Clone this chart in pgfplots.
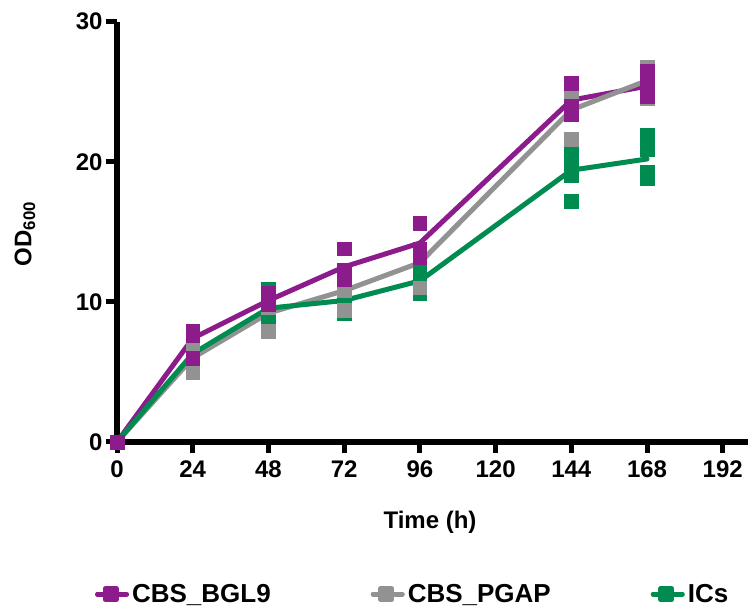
\documentclass[border=0pt]{standalone}
\usepackage{fontspec}
\setmainfont{Liberation Sans}
\usepackage{pgfplots}
\pgfplotsset{compat=1.18}

\definecolor{bgl}{RGB}{140,28,140}
\definecolor{pgap}{RGB}{146,146,146}
\definecolor{ics}{RGB}{0,140,80}
\newcommand{\bigfont}{\fontsize{24}{29}\selectfont\bfseries}
\newcommand{\legfont}{\fontsize{26}{31}\selectfont\bfseries}

\begin{document}
\begin{tikzpicture}
\useasboundingbox (0,0) rectangle (748pt,609pt);
\begin{axis}[
  at={(117pt,167pt)}, anchor=south west,
  scale only axis, width=631pt, height=420.3pt,
  xmin=0, xmax=200, ymin=0, ymax=30,
  axis lines*=left,
  axis line style={line width=5.5pt},
  xtick={0,24,...,192}, ytick={0,10,20,30},
  tick align=outside, major tick length=11pt,
  tick style={line width=5pt, black},
  tick label style={font=\bigfont},
  xticklabel style={yshift=-4pt},
  /pgf/number format/assume math mode=true,
  clip=false,
  legend columns=3,
  legend style={at={(axis description cs:-0.035,-0.362)}, anchor=west,
    draw=none, inner sep=0pt, font=\legfont,
    nodes={inner sep=3pt}, cells={anchor=west},
    /tikz/every even column/.append style={column sep=97pt}},
  legend image code/.code={
    \path (0pt,0pt) -- (29pt,0pt);
    \draw[#1, line width=5pt] (0pt,0pt) -- (26pt,0pt);
    \fill[#1] (7.5pt,-5.5pt) rectangle (18.5pt,5.5pt);},
]
% replicates
\addplot[only marks, mark=square*, mark size=6.8pt, ics, forget plot] coordinates {
  (0,0) (24,6.6) (24,6.3) (24,6.0)
  (48,10.9) (48,9.3) (48,8.5)
  (72,10.9) (72,9.95) (72,9.2)
  (96,12.4) (96,11.5) (96,10.6)
  (144,20.6) (144,19.8) (144,19.0) (144,17.2)
  (168,21.9) (168,20.9) (168,19.3) (168,18.8)
};
\addplot[only marks, mark=square*, mark size=6.8pt, pgap, forget plot] coordinates {
  (0,0) (24,6.8) (24,6.2) (24,5.0)
  (48,10.1) (48,9.6) (48,7.9)
  (72,11.9) (72,10.8) (72,9.4)
  (96,13.7) (96,13.5) (96,11.0)
  (144,24.8) (144,24.6) (144,21.6)
  (168,26.8) (168,26.1) (168,24.5)
};
\addplot[only marks, mark=square*, mark size=6.8pt, bgl, forget plot] coordinates {
  (0,0) (24,7.9) (24,7.6) (24,6.0)
  (48,10.6) (48,10.0) (48,9.8)
  (72,13.8) (72,12.3) (72,11.6)
  (96,15.6) (96,13.8) (96,13.2)
  (144,25.6) (144,24.0) (144,23.4)
  (168,26.5) (168,25.6) (168,24.7)
};
% means
\addplot[bgl, line width=5pt, line join=round, line cap=round, mark=none] coordinates {
  (0,0) (24,7.4) (48,10.1) (72,12.5) (96,14.2) (144,24.4) (168,25.4)
};
\addlegendentry{CBS\_BGL9}
\addplot[pgap, line width=5pt, line join=round, line cap=round, mark=none] coordinates {
  (0,0) (24,6.0) (48,9.2) (72,10.8) (96,12.8) (144,23.7) (168,25.8)
};
\addlegendentry{CBS\_PGAP}
\addplot[ics, line width=5pt, line join=round, line cap=round, mark=none] coordinates {
  (0,0) (24,6.3) (48,9.55) (72,10.1) (96,11.5) (144,19.4) (168,20.2)
};
\addlegendentry{ICs}
\end{axis}
\node[font=\bigfont] at (430pt,87pt) {Time (h)};
\node[font=\bigfont, rotate=90] at (25pt,375pt) {OD\textsubscript{600}};
\end{tikzpicture}
\end{document}
